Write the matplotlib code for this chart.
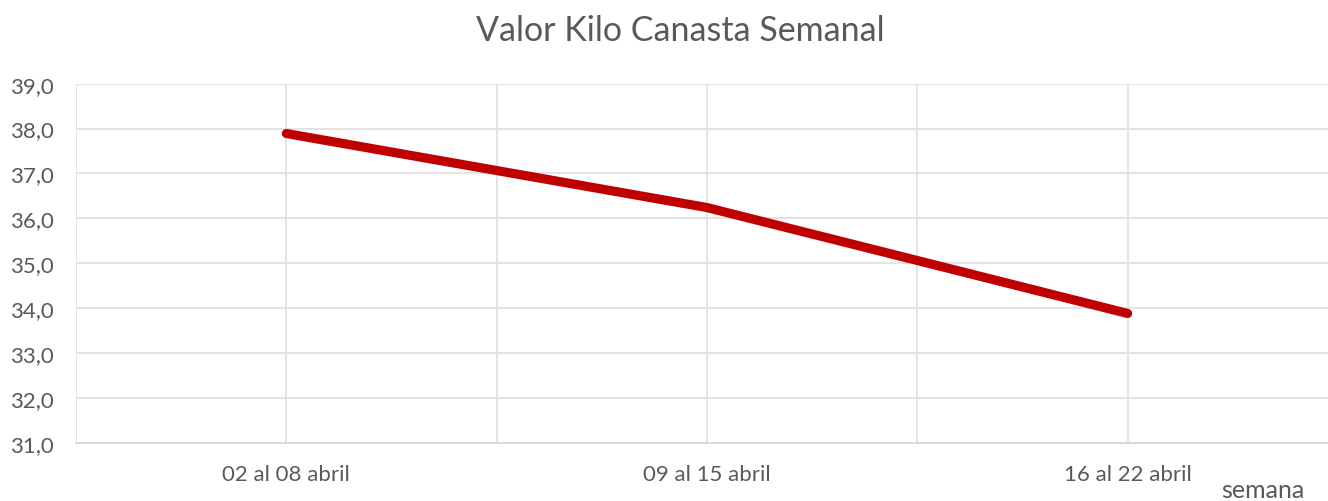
import matplotlib
matplotlib.use("Agg")
import matplotlib.pyplot as plt
from matplotlib.ticker import FuncFormatter, MultipleLocator

categories = ["02 al 08 abril", "09 al 15 abril", "16 al 22 abril"]
values = [37.89, 36.24, 33.88]
title = "Valor Kilo Canasta Semanal"
xlabel = "semana"

plt.rcParams['font.family'] = ['Lato', 'DejaVu Sans']
W, H = 1328, 502
fig = plt.figure(figsize=(W / 100, H / 100), dpi=100)
left, right = 76, 1338
top, bottom = 84.7, 443.7
ax = fig.add_axes([left / W, 1 - bottom / H, (right - left) / W, (bottom - top) / H])

x = list(range(1, len(categories) + 1))
ax.plot(x, values, color="#C00000", linewidth=6.6, solid_capstyle="round",
        solid_joinstyle="round", zorder=3)

ax.set_xlim(0.5, len(categories) + 0.5)
ax.set_ylim(31, 39)
ax.set_xticks(x)
ax.set_xticklabels(categories)
ax.xaxis.set_minor_locator(MultipleLocator(0.5))
ax.yaxis.set_major_locator(MultipleLocator(1))
ax.yaxis.set_major_formatter(FuncFormatter(lambda v, p: f"{v:.1f}".replace(".", ",")))

ax.grid(True, which="major", axis="both", color="#e0e0e0", linewidth=1.3)
ax.grid(True, which="minor", axis="x", color="#e0e0e0", linewidth=1.3)
for s in ["top", "right", "left"]:
    ax.spines[s].set_visible(False)
ax.spines["bottom"].set_color("#d9d9d9")
ax.spines["bottom"].set_linewidth(1.3)
ax.tick_params(axis="both", which="both", length=0, colors="#595959", labelsize=16)
ax.tick_params(axis="y", pad=16)
ax.tick_params(axis="x", pad=15.5)

fig.text(680 / W, 1 - 31 / H, title, ha="center", va="center", fontsize=24.5, color="#595959")
fig.text(1263 / W, 1 - 491 / H, xlabel, ha="center", va="center", fontsize=18, color="#595959")

fig.savefig("out.png", dpi=100)
